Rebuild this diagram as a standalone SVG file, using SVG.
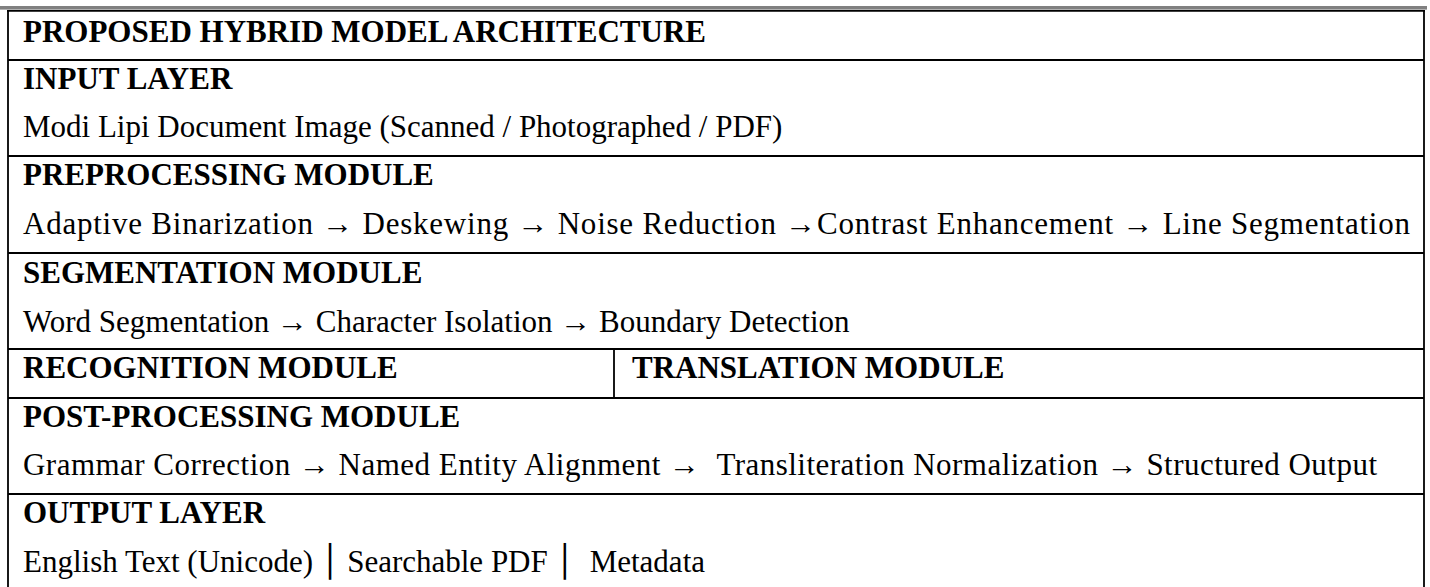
<svg xmlns="http://www.w3.org/2000/svg" width="1430" height="587" viewBox="0 0 1430 587">
<style>
text{font-family:"Liberation Serif","Times New Roman",serif;font-size:31px;fill:#000}
.h{font-weight:bold}
.ln{stroke:#000;stroke-width:1.8;fill:none}
.bar{font-family:"DejaVu Sans",sans-serif}
</style>
<rect x="0" y="6" width="1427" height="3.6" fill="#808080"/>
<g id="grid">
<line class="ln" x1="7" y1="10.8" x2="1425" y2="10.8"/>
<line class="ln" x1="8" y1="10" x2="8" y2="587"/>
<line class="ln" x1="1424" y1="10" x2="1424" y2="587"/>
<line class="ln" x1="8" y1="60" x2="1424" y2="60"/>
<line class="ln" x1="8" y1="156" x2="1424" y2="156"/>
<line class="ln" x1="8" y1="253" x2="1424" y2="253"/>
<line class="ln" x1="8" y1="349" x2="1424" y2="349"/>
<line class="ln" x1="614" y1="349" x2="614" y2="398"/>
<line class="ln" x1="8" y1="398" x2="1424" y2="398"/>
<line class="ln" x1="8" y1="494" x2="1424" y2="494"/>
</g>
<g id="title"><text class="h" x="23" y="41.7">PROPOSED HYBRID MODEL ARCHITECTURE</text></g>
<g id="input-layer">
<text class="h" x="23" y="89">INPUT LAYER</text>
<text x="23" y="136.7">Modi Lipi Document Image (Scanned / Photographed / PDF)</text>
</g>
<g id="preprocessing">
<text class="h" x="23" y="185">PREPROCESSING MODULE</text>
<text x="23" y="234.3" textLength="1387" lengthAdjust="spacing">Adaptive Binarization → Deskewing → Noise Reduction →Contrast Enhancement → Line Segmentation</text>
</g>
<g id="segmentation">
<text class="h" x="23" y="283.3">SEGMENTATION MODULE</text>
<text x="23" y="331.7">Word Segmentation → Character Isolation → Boundary Detection</text>
</g>
<g id="recognition"><text class="h" x="23" y="378.3">RECOGNITION MODULE</text></g>
<g id="translation"><text class="h" x="632" y="378.3">TRANSLATION MODULE</text></g>
<g id="post-processing">
<text class="h" x="23" y="426.7">POST-PROCESSING MODULE</text>
<text x="23" y="475" xml:space="preserve" textLength="1354" lengthAdjust="spacing">Grammar Correction → Named Entity Alignment →  Transliteration Normalization → Structured Output</text>
</g>
<g id="output-layer">
<text class="h" x="23" y="523.3">OUTPUT LAYER</text>
<text x="23" y="571.7" xml:space="preserve">English Text (Unicode) <tspan class="bar">│</tspan> Searchable PDF <tspan class="bar">│</tspan>  Metadata</text>
</g>
</svg>
